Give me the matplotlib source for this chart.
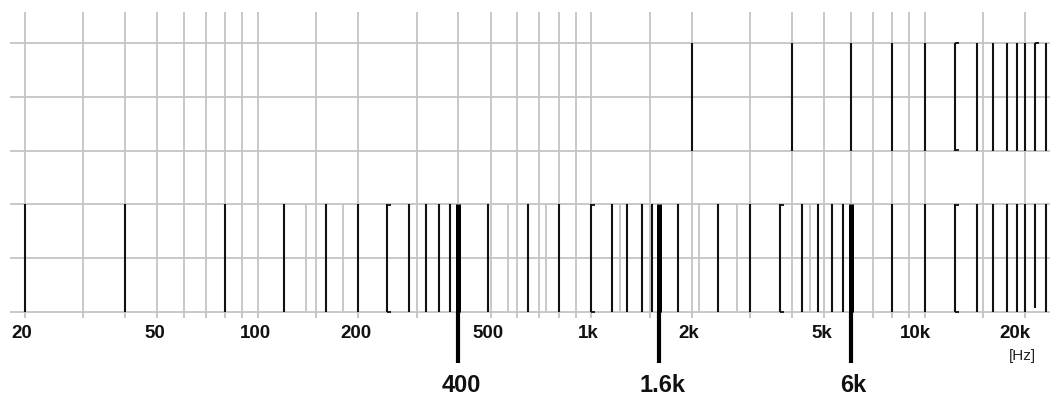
import numpy as np
import matplotlib
matplotlib.use("Agg")
import matplotlib.pyplot as plt

# ---- data (Hz) ----
grid_freqs = [20, 30, 40, 50, 60, 70, 80, 90, 100, 150, 200, 300, 400, 500, 600,
              700, 800, 900, 1000, 1500, 2000, 3000, 4000, 5000, 6000, 7000,
              8000, 9000, 10000, 15000, 20000]
tick_freqs = [20, 50, 100, 200, 500, 1000, 2000, 5000, 10000, 20000]
tick_labels = ["20", "50", "100", "200", "500", "1k", "2k", "5k", "10k", "20k"]

# upper band: components above 2 kHz
upper_freqs = [2000, 4000, 6000, 8000, 10000, 12360, 14340, 16000, 17640,
               18900, 20000, 21400, 23200]
upper_bracket = [12360]
upper_hook = [21400]

# lower band: full spectrum
lower_freqs = [20, 40, 80, 120, 160, 200, 245, 285, 320, 350, 376, 490, 645,
               800, 1000, 1155, 1284, 1420, 1520, 1826, 2406, 3000, 3690,
               4300, 4800, 5290, 5675, 8000, 10000, 12360, 14340, 16000,
               17640, 18900, 20000, 23060]
lower_short = [21400]
lower_bracket = [245, 1000, 3690, 12360]
lower_faint = [140, 180, 564, 732, 1220, 2100, 2730, 4535]

# highlighted components with call-out labels
marked_freqs = [400, 1600, 6000]
marked_labels = ["400", "1.6k", "6k"]

# ---- figure ----
W, H = 1050, 397
fig = plt.figure(figsize=(W / 100, H / 100), dpi=100)
ax = fig.add_axes([0, 0, 1, 1])
ax.set_xscale("log")
px_per_dec = 333.4
x0 = 24.7
f_left = 20 * 10 ** (-x0 / px_per_dec)
f_right = f_left * 10 ** (W / px_per_dec)
ax.set_xlim(f_left, f_right)
ax.set_ylim(H, 0)
ax.axis("off")


def shift(f, px):
    """Move a frequency by a number of pixels along the log axis."""
    return f * 10 ** (px / px_per_dec)


grid_col = "#c4c4c4"
ink = "#111111"

# horizontal grid
rows = [42.5, 96.5, 150.5, 204, 258, 312]
ax.hlines(rows, shift(f_left, 10), f_right, colors=grid_col, lw=1.3, zorder=1)
# vertical grid
ax.vlines(grid_freqs, 11.5, 318, colors=grid_col, lw=1.3, zorder=1)

# faint components in the lower band
ax.vlines(lower_faint, 204, 312, colors=grid_col, lw=1.3, zorder=1)

# lower band
ax.vlines(lower_freqs, 204, 312, colors=ink, lw=1.5, zorder=3)
ax.vlines(lower_short, 204, 308, colors=ink, lw=1.5, zorder=3)

# upper band
ax.vlines(upper_freqs, 42.5, 150.5, colors=ink, lw=1.5, zorder=3)


def serif(freqs, y):
    for f in freqs:
        ax.plot([f, shift(f, 4)], [y, y], color=ink, lw=1.3,
                solid_capstyle="butt", zorder=3)


serif(lower_bracket, 204.5)
serif(lower_bracket, 311.5)
serif(upper_bracket, 43)
serif(upper_bracket, 150)
serif(upper_hook, 43)

# highlighted components with call-outs
ax.vlines(marked_freqs, 204, 312, colors="black", lw=3.6, zorder=4)
ax.vlines(marked_freqs, 312, 363, colors="black", lw=3.0, zorder=4)
for f, lab in zip(marked_freqs, marked_labels):
    ax.text(shift(f, 3), 386, lab, ha="center", va="center", fontsize=17,
            fontweight="bold", family="Liberation Sans", color="#111111")

# tick labels
for f, lab in zip(tick_freqs, tick_labels):
    dx = -9.5 if f >= 10000 else -2.5
    ax.text(shift(f, dx), 334, lab, ha="center", va="center", fontsize=13.5,
            fontweight="bold", family="Liberation Sans", color="#111111")
ax.text(shift(20000, -2), 356, "[Hz]", ha="center", va="center",
        fontsize=11, family="Liberation Sans", color="#222222")

fig.savefig("out.png", dpi=100, facecolor="white")
